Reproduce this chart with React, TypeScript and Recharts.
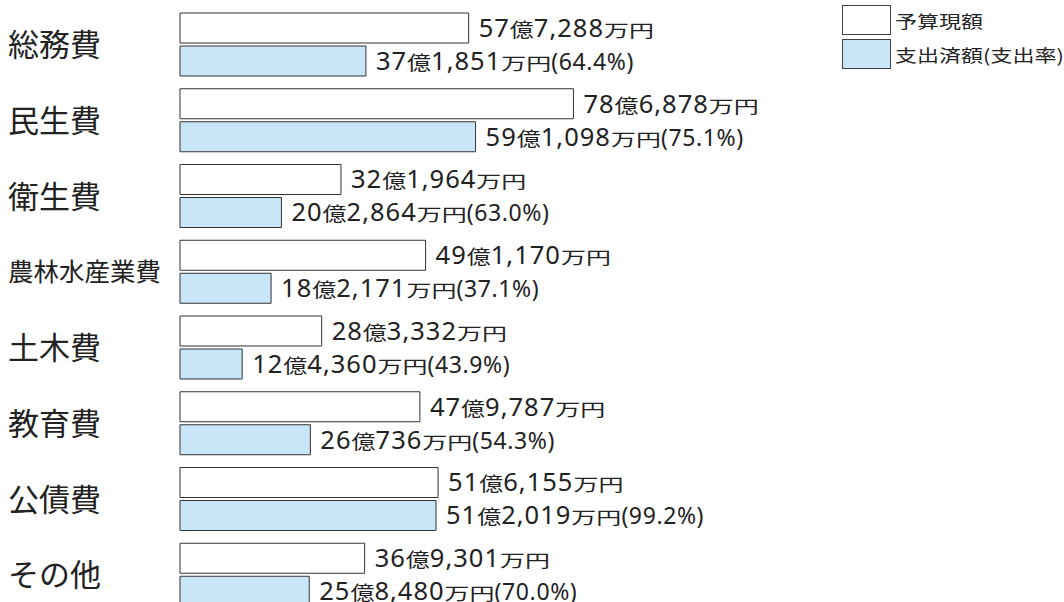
import { BarChart, Bar, XAxis, YAxis, LabelList } from "recharts";

const categories = ["総務費", "民生費", "衛生費", "農林水産業費", "土木費", "教育費", "公債費", "その他"];
// 単位: 万円
const budget = [577288, 786878, 321964, 491170, 283332, 479787, 516155, 369301];
const spent = [371851, 591098, 202864, 182171, 124360, 260736, 512019, 258480];
const rates = ["64.4", "75.1", "63.0", "37.1", "43.9", "54.3", "99.2", "70.0"];
const seriesNames = ["予算現額", "支出済額(支出率)"];

const data = categories.map((name, i) => ({
  name,
  budget: budget[i],
  spent: spent[i],
  rate: rates[i],
}));

const CJK = "'Noto Sans CJK JP', sans-serif";
const NUM = "'Noto Sans', 'Noto Sans CJK JP', sans-serif";
const TEXT = "#222";

const split = (v: number) => {
  const oku = Math.floor(v / 10000);
  const man = (v % 10000).toLocaleString("en-US");
  return [String(oku), man];
};

const ValueLabel = (props: any) => {
  const { x, y, width, height, value, index, withRate } = props;
  const [oku, man] = split(value);
  return (
    <text
      x={x + width + 10}
      y={y + height / 2}
      dy="0.35em"
      fill={TEXT}
      fontFamily={NUM}
      fontSize={25.5}
    >
      <tspan letterSpacing={1}>{oku}</tspan>
      <tspan fontFamily={CJK} fontSize={19} textLength={24} lengthAdjust="spacingAndGlyphs">億</tspan>
      <tspan letterSpacing={1}>{man}</tspan>
      <tspan fontFamily={CJK} fontSize={17} textLength={50} lengthAdjust="spacingAndGlyphs">万円</tspan>
      {withRate ? <tspan fontSize={23} letterSpacing={0.6}>{`(${rates[index]}%)`}</tspan> : null}
    </text>
  );
};

const CatTick = ({ y, payload }: any) => {
  const long = payload.value.length > 4;
  return (
    <text
      x={8}
      y={y}
      dy="0.36em"
      fontSize={long ? 25.5 : 31}
      fill={TEXT}
      fontFamily={CJK}
      textAnchor="start"
    >
      {payload.value}
    </text>
  );
};

const Legend2 = () => (
  <div style={{ position: "absolute", left: 842, top: 5, fontFamily: CJK, fontSize: 17.6, color: TEXT }}>
    {seriesNames.map((n, i) => (
      <div key={n} style={{ display: "flex", alignItems: "center", height: 30, marginBottom: 4 }}>
        <div
          style={{
            width: 49,
            height: 30,
            border: "1px solid #444",
            background: i === 0 ? "#fff" : "#c8e6f8",
            boxSizing: "border-box",
            flexShrink: 0,
          }}
        />
        <span
          style={{
            marginLeft: 4,
            whiteSpace: "nowrap",
            display: "inline-block",
            transform: "scaleX(1.25)",
            transformOrigin: "left center",
          }}
        >
          {n}
        </span>
      </div>
    ))}
  </div>
);

export default function App() {
  return (
    <div style={{ position: "absolute", left: 0, top: 0, width: 1064, height: 602, overflow: "hidden", background: "#fff" }}>
      <BarChart
        width={1064}
        height={622}
        data={data}
        layout="vertical"
        margin={{ top: 7, right: 84, left: 0, bottom: 9 }}
        barSize={30}
        barGap={3}
        barCategoryGap={13}
      >
        <XAxis type="number" domain={[0, 1600000]} hide />
        <YAxis
          type="category"
          dataKey="name"
          width={180}
          axisLine={false}
          tickLine={false}
          tick={<CatTick />}
        />
        <Bar dataKey="budget" fill="#ffffff" stroke="#333" strokeWidth={1} isAnimationActive={false}>
          <LabelList dataKey="budget" content={<ValueLabel />} />
        </Bar>
        <Bar dataKey="spent" fill="#c8e6f8" stroke="#333" strokeWidth={1} isAnimationActive={false}>
          <LabelList dataKey="spent" content={<ValueLabel withRate />} />
        </Bar>
      </BarChart>
      <Legend2 />
    </div>
  );
}
